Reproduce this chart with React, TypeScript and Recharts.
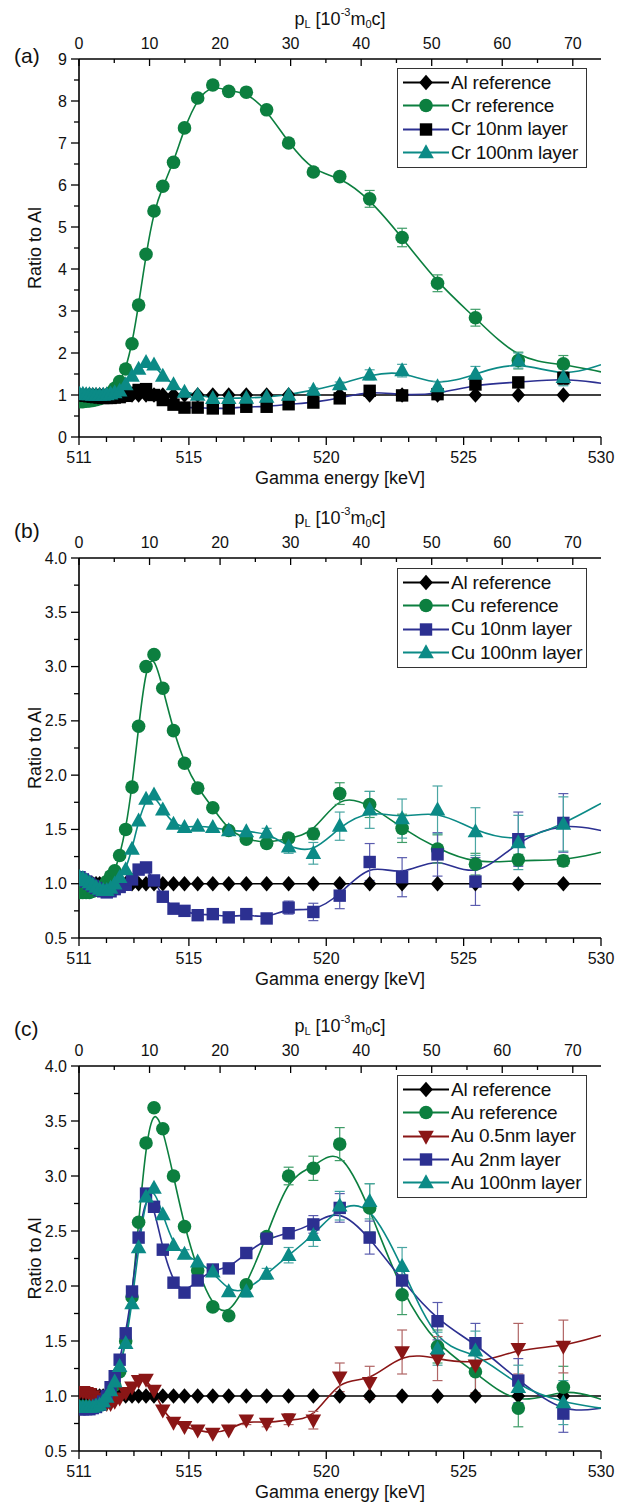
import React from 'react';
import { ComposedChart, Line, Scatter, XAxis, YAxis, ErrorBar, Legend } from 'recharts';

const FONT = '"Liberation Sans", Arial, Helvetica, sans-serif';

// Gamma energy of the measured points [keV]
const energy = [
  511.02, 511.14, 511.26, 511.38, 511.5, 511.62, 511.75, 511.88, 512.01, 512.15, 512.3,
  512.48, 512.7, 512.93, 513.17, 513.44, 513.73, 514.05, 514.44, 514.84, 515.32, 515.87,
  516.45, 517.09, 517.83, 518.63, 519.53, 520.49, 521.58, 522.76, 524.05, 525.43, 526.99, 528.63,
];

const alReference = [
  1, 1, 1, 1, 1, 1, 1, 1, 1, 1, 1,
  1, 1, 1, 1, 1, 1, 1, 1, 1, 1, 1, 1, 1, 1, 1, 1, 1, 1, 1, 1, 1, 1, 1,
];
const alReferenceErr = [
  0, 0, 0, 0, 0, 0, 0, 0, 0, 0, 0,
  0, 0, 0, 0, 0, 0, 0, 0, 0, 0, 0, 0, 0, 0, 0, 0, 0, 0, 0, 0, 0, 0, 0,
];

// panel (a)
const crReference = [
  0.84, 0.84, 0.85, 0.86, 0.87, 0.89, 0.91, 0.94, 0.98, 1.05, 1.16,
  1.32, 1.62, 2.22, 3.14, 4.35, 5.38, 5.97, 6.54, 7.36, 8.07, 8.38, 8.23, 8.21, 7.79, 7.0, 6.31, 6.2, 5.67, 4.75, 3.66, 2.84, 1.82, 1.74,
];
const crReferenceErr = [
  0, 0, 0, 0, 0, 0, 0, 0, 0, 0, 0,
  0, 0, 0, 0, 0, 0, 0, 0, 0, 0, 0, 0, 0, 0, 0.04, 0.06, 0.1, 0.2, 0.22, 0.2, 0.2, 0.2, 0.2,
];
const cr10nm = [
  1.0, 0.99, 0.98, 0.97, 0.96, 0.95, 0.94, 0.93, 0.93, 0.93, 0.94,
  0.95, 0.98, 1.05, 1.12, 1.14, 1.0, 0.88, 0.77, 0.7, 0.7, 0.68, 0.68, 0.72, 0.72, 0.78, 0.82, 0.92, 1.1, 0.99, 1.02, 1.25, 1.3, 1.4,
];
const cr10nmErr = [
  0, 0, 0, 0, 0, 0, 0, 0, 0, 0, 0,
  0, 0, 0, 0, 0, 0, 0, 0, 0, 0, 0, 0, 0, 0, 0.03, 0.05, 0.05, 0.08, 0.1, 0.05, 0.1, 0.1, 0.15,
];
const cr100nm = [
  1.02, 1.02, 1.01, 1.01, 1.0, 1.0, 1.0, 1.0, 1.01, 1.03, 1.06,
  1.1, 1.25, 1.45, 1.62, 1.78, 1.72, 1.45, 1.25, 1.07, 1.0, 0.92, 0.92, 0.93, 0.95, 1.0, 1.12, 1.25, 1.48, 1.58, 1.2, 1.5, 1.82, 1.42,
];
const cr100nmErr = [
  0, 0, 0, 0, 0, 0, 0, 0, 0, 0, 0,
  0, 0, 0, 0, 0, 0, 0, 0, 0, 0, 0, 0, 0, 0, 0.03, 0.05, 0.06, 0.12, 0.15, 0.12, 0.18, 0.18, 0.2,
];

// panel (b)
const cuReference = [
  0.92, 0.92, 0.92, 0.92, 0.93, 0.94, 0.96, 0.98, 1.02, 1.07, 1.12,
  1.26, 1.5, 1.89, 2.45, 3.0, 3.11, 2.8, 2.41, 2.11, 1.88, 1.7, 1.49, 1.41, 1.37, 1.42, 1.46, 1.83, 1.73, 1.51, 1.32, 1.18, 1.22, 1.21,
];
const cuReferenceErr = [
  0, 0, 0, 0, 0, 0, 0, 0, 0, 0, 0,
  0, 0, 0, 0, 0, 0, 0, 0, 0, 0, 0, 0, 0, 0, 0.04, 0.05, 0.1, 0.12, 0.13, 0.13, 0.1, 0.05, 0.05,
];
const cu10nm = [
  1.06, 1.04, 1.02, 1.0, 0.98, 0.96, 0.94, 0.93, 0.92, 0.93, 0.95,
  0.97, 0.99, 1.04, 1.13, 1.15, 1.03, 0.88, 0.77, 0.75, 0.71, 0.72, 0.69, 0.72, 0.68, 0.78, 0.74, 0.89, 1.2, 1.06, 1.27, 1.02, 1.41, 1.56,
];
const cu10nmErr = [
  0, 0, 0, 0, 0, 0, 0, 0, 0, 0, 0,
  0, 0, 0, 0, 0, 0, 0, 0, 0, 0, 0, 0, 0, 0.02, 0.06, 0.08, 0.12, 0.17, 0.18, 0.2, 0.22, 0.25, 0.27,
];
const cu100nm = [
  1.06, 1.05, 1.03, 1.01, 0.99, 0.97, 0.95, 0.94, 0.94, 0.96, 1.0,
  1.06, 1.13, 1.32, 1.58, 1.78, 1.82, 1.68, 1.55, 1.52, 1.53, 1.52, 1.49, 1.48, 1.47, 1.34, 1.28, 1.53, 1.68, 1.6, 1.68, 1.48, 1.38, 1.55,
];
const cu100nmErr = [
  0, 0, 0, 0, 0, 0, 0, 0, 0, 0, 0,
  0, 0, 0, 0, 0, 0, 0, 0, 0, 0, 0, 0, 0, 0.04, 0.06, 0.1, 0.13, 0.17, 0.18, 0.22, 0.22, 0.25, 0.25,
];

// panel (c)
const auReference = [
  0.9, 0.9, 0.9, 0.9, 0.9, 0.91, 0.92, 0.94, 0.97, 1.02, 1.1,
  1.22, 1.5, 1.9, 2.58, 3.3, 3.62, 3.43, 3.0, 2.54, 2.14, 1.81, 1.73, 2.01, 2.45, 3.0, 3.07, 3.29, 2.71, 1.92, 1.45, 1.22, 0.89, 1.08,
];
const auReferenceErr = [
  0, 0, 0, 0, 0, 0, 0, 0, 0, 0, 0,
  0, 0, 0, 0, 0, 0, 0, 0, 0, 0, 0, 0, 0, 0, 0.08, 0.11, 0.15, 0.22, 0.18, 0.15, 0.2, 0.17, 0.19,
];
const au05nm = [
  1.04, 1.04, 1.03, 1.02, 1.0, 0.98, 0.96, 0.94, 0.93, 0.93, 0.95,
  0.98, 1.03, 1.08, 1.14, 1.15, 1.05, 0.87, 0.76, 0.72, 0.69, 0.66, 0.69, 0.78, 0.75, 0.79, 0.78, 1.17, 1.12, 1.4, 1.34, 1.28, 1.43, 1.45,
];
const au05nmErr = [
  0, 0, 0, 0, 0, 0, 0, 0, 0, 0, 0,
  0, 0, 0, 0, 0, 0, 0, 0, 0, 0, 0, 0, 0.04, 0.03, 0.05, 0.08, 0.13, 0.15, 0.2, 0.2, 0.25, 0.23, 0.24,
];
const au2nm = [
  0.88, 0.88, 0.88, 0.88, 0.89, 0.9, 0.92, 0.95, 1.0, 1.08, 1.18,
  1.33, 1.57, 1.95, 2.44, 2.84, 2.72, 2.33, 2.03, 1.94, 2.05, 2.15, 2.16, 2.3, 2.43, 2.48, 2.56, 2.71, 2.44, 2.05, 1.68, 1.48, 1.14, 0.84,
];
const au2nmErr = [
  0, 0, 0, 0, 0, 0, 0, 0, 0, 0, 0,
  0, 0, 0, 0, 0, 0, 0, 0, 0, 0, 0, 0, 0.03, 0.03, 0.05, 0.08, 0.13, 0.15, 0.1, 0.17, 0.18, 0.2, 0.17,
];
const au100nm = [
  0.9, 0.9, 0.9, 0.9, 0.9, 0.91, 0.92, 0.95, 0.99, 1.05, 1.13,
  1.27, 1.48, 1.84, 2.35, 2.81, 2.89, 2.65, 2.37, 2.29, 2.22, 2.13, 1.95, 1.95, 2.11, 2.28, 2.46, 2.73, 2.77, 2.18, 1.43, 1.41, 1.08, 0.94,
];
const au100nmErr = [
  0, 0, 0, 0, 0, 0, 0, 0, 0, 0, 0,
  0, 0, 0, 0, 0, 0, 0, 0, 0.04, 0, 0, 0, 0.05, 0.05, 0.07, 0.1, 0.13, 0.16, 0.17, 0.15, 0.18, 0.2, 0.2,
];

// value of each fitted curve where it leaves the frame (530 keV)
const curveEndEnergy = 530;
const tailsA = { al: 1.0, ref: 1.55, l10: 1.28, l100: 1.72 };
const tailsB = { al: 1.0, ref: 1.29, l10: 1.49, l100: 1.74 };
const tailsC = { al: 1.0, ref: 0.97, l05: 1.55, l2: 0.89, l100: 0.89 };

// axis ranges and ticks
const energyDomain: [number, number] = [511, 530];
const momentumDomain: [number, number] = [0, 74];
const energyTicks = [511, 512, 513, 514, 515, 516, 517, 518, 519, 520, 521, 522, 523, 524, 525, 526, 527, 528, 529, 530];
const energyLabels = [511, 515, 520, 525, 530];
const momentumTicks = [0, 5, 10, 15, 20, 25, 30, 35, 40, 45, 50, 55, 60, 65, 70];
const momentumLabels = [0, 10, 20, 30, 40, 50, 60, 70];
const ratioTicksA = [0, 0.5, 1, 1.5, 2, 2.5, 3, 3.5, 4, 4.5, 5, 5.5, 6, 6.5, 7, 7.5, 8, 8.5, 9];
const ratioLabelsA = [0, 1, 2, 3, 4, 5, 6, 7, 8, 9];
const ratioTicksBC = [0.5, 0.75, 1, 1.25, 1.5, 1.75, 2, 2.25, 2.5, 2.75, 3, 3.25, 3.5, 3.75, 4];
const ratioLabelsBC = [0.5, 1, 1.5, 2, 2.5, 3, 3.5, 4];

const BLACK = '#000000';
const GREEN = '#0c7f3f';
const TEAL = '#0b8a86';
const NAVY = '#2c3091';
const RED = '#8a1616';

type Kind = 'diamond' | 'circle' | 'square' | 'up' | 'down';

interface SeriesDef {
  name: string;
  values: number[];
  errors: number[];
  tail: number;
  kind: Kind;
  marker: string;
  line: string;
  err: string;
}

function Marker({ kind, cx, cy, fill }: { kind: Kind; cx: number; cy: number; fill: string }) {
  if (cx == null || cy == null || Number.isNaN(cx) || Number.isNaN(cy)) return <g />;
  switch (kind) {
    case 'circle':
      return <circle cx={cx} cy={cy} r={6.8} fill={fill} />;
    case 'square':
      return <rect x={cx - 6.2} y={cy - 6.2} width={12.4} height={12.4} fill={fill} />;
    case 'diamond':
      return <polygon points={`${cx},${cy - 7.8} ${cx + 6.8},${cy} ${cx},${cy + 7.8} ${cx - 6.8},${cy}`} fill={fill} />;
    case 'up':
      return <polygon points={`${cx},${cy - 8.3} ${cx + 7.8},${cy + 5.7} ${cx - 7.8},${cy + 5.7}`} fill={fill} />;
    default:
      return <polygon points={`${cx},${cy + 8.3} ${cx + 7.8},${cy - 5.7} ${cx - 7.8},${cy - 5.7}`} fill={fill} />;
  }
}

const seriesA: SeriesDef[] = [
  { name: 'Al reference', values: alReference, errors: alReferenceErr, tail: tailsA.al, kind: 'diamond', marker: BLACK, line: BLACK, err: '#333' },
  { name: 'Cr reference', values: crReference, errors: crReferenceErr, tail: tailsA.ref, kind: 'circle', marker: GREEN, line: GREEN, err: '#3f9d68' },
  { name: 'Cr 10nm layer', values: cr10nm, errors: cr10nmErr, tail: tailsA.l10, kind: 'square', marker: BLACK, line: NAVY, err: '#444' },
  { name: 'Cr 100nm layer', values: cr100nm, errors: cr100nmErr, tail: tailsA.l100, kind: 'up', marker: TEAL, line: TEAL, err: '#4aa6a3' },
];
const seriesB: SeriesDef[] = [
  { name: 'Al reference', values: alReference, errors: alReferenceErr, tail: tailsB.al, kind: 'diamond', marker: BLACK, line: BLACK, err: '#333' },
  { name: 'Cu reference', values: cuReference, errors: cuReferenceErr, tail: tailsB.ref, kind: 'circle', marker: GREEN, line: GREEN, err: '#3f9d68' },
  { name: 'Cu 10nm layer', values: cu10nm, errors: cu10nmErr, tail: tailsB.l10, kind: 'square', marker: NAVY, line: NAVY, err: '#5a5cae' },
  { name: 'Cu 100nm layer', values: cu100nm, errors: cu100nmErr, tail: tailsB.l100, kind: 'up', marker: TEAL, line: TEAL, err: '#4aa6a3' },
];
const seriesC: SeriesDef[] = [
  { name: 'Al reference', values: alReference, errors: alReferenceErr, tail: tailsC.al, kind: 'diamond', marker: BLACK, line: BLACK, err: '#333' },
  { name: 'Au reference', values: auReference, errors: auReferenceErr, tail: tailsC.ref, kind: 'circle', marker: GREEN, line: GREEN, err: '#3f9d68' },
  { name: 'Au 0.5nm layer', values: au05nm, errors: au05nmErr, tail: tailsC.l05, kind: 'down', marker: RED, line: RED, err: '#b06464' },
  { name: 'Au 2nm layer', values: au2nm, errors: au2nmErr, tail: tailsC.l2, kind: 'square', marker: NAVY, line: NAVY, err: '#5a5cae' },
  { name: 'Au 100nm layer', values: au100nm, errors: au100nmErr, tail: tailsC.l100, kind: 'up', marker: TEAL, line: TEAL, err: '#4aa6a3' },
];

interface PanelCfg {
  letter: string;
  top: number;
  height: number;
  topH: number;
  bottomH: number;
  letterY: number;
  yDomain: [number, number];
  yTicks: number[];
  yLabels: number[];
  yFmt: (v: number) => string;
  legendTop: number;
  series: SeriesDef[];
}

const panels: PanelCfg[] = [
  { letter: '(a)', top: 0, height: 495, topH: 59, bottomH: 58, letterY: 55, yDomain: [0, 9], yTicks: ratioTicksA, yLabels: ratioLabelsA, yFmt: (v) => String(v), legendTop: 68, series: seriesA },
  { letter: '(b)', top: 495, height: 500, topH: 63, bottomH: 57, letterY: 35, yDomain: [0.5, 4], yTicks: ratioTicksBC, yLabels: ratioLabelsBC, yFmt: (v) => v.toFixed(1), legendTop: 73, series: seriesB },
  { letter: '(c)', top: 995, height: 509, topH: 71, bottomH: 53, letterY: 33, yDomain: [0.5, 4], yTicks: ratioTicksBC, yLabels: ratioLabelsBC, yFmt: (v) => v.toFixed(1), legendTop: 80, series: seriesC },
];

const points = (s: SeriesDef) => energy.map((x, i) => ({ x, y: s.values[i], e: s.errors[i] }));
const curve = (s: SeriesDef) => [...energy.map((x, i) => ({ x, y: s.values[i] })), { x: curveEndEnergy, y: s.tail }];
// corners of the frame on the secondary (momentum / right) axes, so those axes get a scale
const frameCorners = (cfg: PanelCfg) => [
  { x: momentumDomain[0], y: cfg.yDomain[0] },
  { x: momentumDomain[1], y: cfg.yDomain[1] },
];

const MAJOR = 8;
const MINOR = 5;
const TICK_FS = 16;
const TITLE_FS = 18;

function LegendBox({ series }: { series: SeriesDef[] }) {
  return (
    <div style={{ border: '1.3px solid #333', background: '#fff', padding: '2px 0 3px 0', fontFamily: FONT, boxSizing: 'border-box', width: 190 }}>
      {series.map((s) => (
        <div key={s.name} style={{ display: 'flex', alignItems: 'center', height: 23.3 }}>
          <svg width={52} height={23} style={{ display: 'block', flex: 'none' }}>
            <line x1={5} x2={51} y1={11.5} y2={11.5} stroke={s.line} strokeWidth={1.8} />
            <Marker kind={s.kind} cx={28} cy={11.5} fill={s.marker} />
          </svg>
          <span style={{ fontSize: 19, marginLeft: 1, color: '#111', whiteSpace: 'nowrap', letterSpacing: -0.2 }}>{s.name}</span>
        </div>
      ))}
    </div>
  );
}

function Panel({ cfg }: { cfg: PanelCfg }) {
  const plotTop = cfg.topH;
  const plotBottom = cfg.height - cfg.bottomH;
  const midX = (79 + 601) / 2;
  const midY = (plotTop + plotBottom) / 2;
  const axisLine = { stroke: '#000', strokeWidth: 1.6 };

  const bottomTick = (p: any) => {
    const v = p.payload.value;
    const lab = energyLabels.includes(v);
    return (
      <g>
        <line x1={p.x} x2={p.x} y1={p.y} y2={p.y + (lab ? MAJOR : MINOR)} stroke="#000" strokeWidth={1.3} />
        {lab && (
          <text x={p.x} y={p.y + 20} textAnchor="middle" dominantBaseline="central" fontSize={TICK_FS} fontFamily={FONT} fill="#111">
            {v}
          </text>
        )}
      </g>
    );
  };
  const topTick = (p: any) => {
    const v = p.payload.value;
    const lab = momentumLabels.includes(v);
    return (
      <g>
        <line x1={p.x} x2={p.x} y1={p.y} y2={p.y + (lab ? 7 : 4)} stroke="#000" strokeWidth={1.3} />
        {lab && (
          <text x={p.x} y={p.y - 16} textAnchor="middle" dominantBaseline="central" fontSize={TICK_FS} fontFamily={FONT} fill="#111">
            {v}
          </text>
        )}
      </g>
    );
  };
  const leftTick = (p: any) => {
    const v = p.payload.value;
    const lab = cfg.yLabels.includes(v);
    return (
      <g>
        <line x1={p.x} x2={p.x - (lab ? MAJOR : MINOR)} y1={p.y} y2={p.y} stroke="#000" strokeWidth={1.3} />
        {lab && (
          <text x={p.x - 12} y={p.y} textAnchor="end" dominantBaseline="central" fontSize={TICK_FS} fontFamily={FONT} fill="#111">
            {cfg.yFmt(v)}
          </text>
        )}
      </g>
    );
  };
  const rightTick = (p: any) => {
    const v = p.payload.value;
    const lab = cfg.yLabels.includes(v);
    return (
      <g>
        <line x1={p.x} x2={p.x - (lab ? 7 : 4)} y1={p.y} y2={p.y} stroke="#000" strokeWidth={1.3} />
      </g>
    );
  };

  return (
    <div style={{ position: 'absolute', left: 0, top: cfg.top, width: 619, height: cfg.height }}>
      <ComposedChart width={619} height={cfg.height} margin={{ top: 0, right: 18, bottom: 0, left: 0 }}>
        <XAxis xAxisId="e" dataKey="x" type="number" domain={energyDomain} allowDataOverflow ticks={energyTicks} interval={0}
          orientation="bottom" height={cfg.bottomH} tickSize={0} tickMargin={0} tickLine={false} axisLine={axisLine} tick={bottomTick} />
        <XAxis xAxisId="p" dataKey="x" type="number" domain={momentumDomain} allowDataOverflow ticks={momentumTicks} interval={0}
          orientation="top" height={cfg.topH} tickSize={0} tickMargin={0} tickLine={false} axisLine={axisLine} tick={topTick} />
        <YAxis yAxisId="l" dataKey="y" type="number" domain={cfg.yDomain} allowDataOverflow ticks={cfg.yTicks} interval={0}
          orientation="left" width={79} tickSize={0} tickMargin={0} tickLine={false} axisLine={axisLine} tick={leftTick} />
        <YAxis yAxisId="r" dataKey="y" type="number" domain={cfg.yDomain} allowDataOverflow ticks={cfg.yTicks} interval={0}
          orientation="right" width={0} tickSize={0} tickMargin={0} tickLine={false} axisLine={axisLine} tick={rightTick} />
        <Scatter xAxisId="p" yAxisId="r" data={frameCorners(cfg)} dataKey="y" isAnimationActive={false} legendType="none"
          shape={() => <g />} />
        {cfg.series.map((s) => (
          <Line key={'c' + s.name} xAxisId="e" yAxisId="l" data={curve(s)} dataKey="y" type="basis" stroke={s.line}
            strokeWidth={1.6} dot={false} activeDot={false} isAnimationActive={false} legendType="none" />
        ))}
        {cfg.series.map((s) => (
          <Scatter key={'s' + s.name} xAxisId="e" yAxisId="l" data={points(s)} dataKey="y" isAnimationActive={false}
            shape={(p: any) => <Marker kind={s.kind} cx={p.cx} cy={p.cy} fill={s.marker} />}>
            <ErrorBar dataKey="e" direction="y" width={5} stroke={s.err} strokeWidth={1.2} isAnimationActive={false} />
          </Scatter>
        ))}
        <Legend layout="horizontal" verticalAlign="middle" align="center"
          wrapperStyle={{ left: 397, top: cfg.legendTop, width: 190, margin: 0, padding: 0 }}
          content={() => <LegendBox series={cfg.series} />} />
      </ComposedChart>
      <svg width={619} height={cfg.height} style={{ position: 'absolute', left: 0, top: 0, pointerEvents: 'none' }}>
        <text x={14} y={cfg.letterY} fontSize={21} fontFamily={FONT} dominantBaseline="central" fill="#111">{cfg.letter}</text>
        <text x={midX} y={plotTop - 40} textAnchor="middle" dominantBaseline="central" fontSize={TITLE_FS} fontFamily={FONT} fill="#111">
          p<tspan dy={5} fontSize={11}>L</tspan>
          <tspan dy={-5}> [10</tspan>
          <tspan dy={-7} fontSize={11}>-3</tspan>
          <tspan dy={7}>m</tspan>
          <tspan dy={5} fontSize={11}>0</tspan>
          <tspan dy={-5}>c]</tspan>
        </text>
        <text x={midX} y={plotBottom + 41} textAnchor="middle" dominantBaseline="central" fontSize={TITLE_FS} fontFamily={FONT} fill="#111">
          Gamma energy [keV]
        </text>
        <text x={35} y={midY} textAnchor="middle" dominantBaseline="central" fontSize={TITLE_FS} fontFamily={FONT} fill="#111"
          transform={`rotate(-90, 35, ${midY})`}>
          Ratio to Al
        </text>
      </svg>
    </div>
  );
}

export default function App() {
  return (
    <div style={{ position: 'absolute', left: 0, top: 0, width: 619, height: 1504, background: '#fff', fontFamily: FONT }}>
      {panels.map((p) => (
        <Panel key={p.letter} cfg={p} />
      ))}
    </div>
  );
}
